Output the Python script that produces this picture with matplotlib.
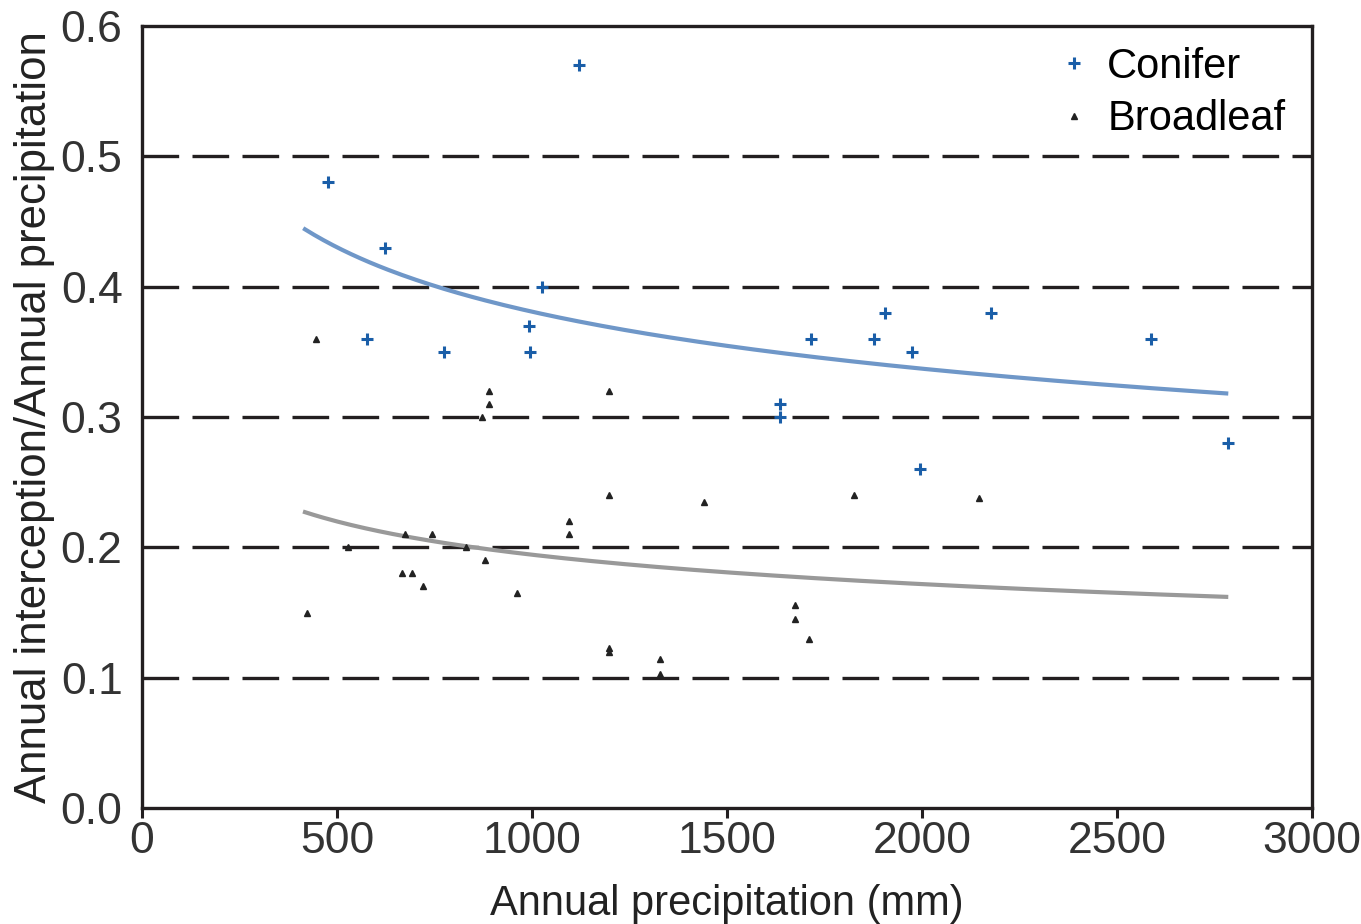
import matplotlib
matplotlib.use('Agg')
import matplotlib.pyplot as plt
import numpy as np

# conifer: annual precipitation (mm) vs interception ratio
con_x = [477, 623, 577, 774, 992, 995, 1026, 1120, 1636, 1636, 1715, 1877,
         1905, 1974, 1995, 2177, 2587, 2785]
con_y = [0.48, 0.43, 0.36, 0.35, 0.37, 0.35, 0.40, 0.57, 0.31, 0.30, 0.36, 0.36,
         0.38, 0.35, 0.26, 0.38, 0.36, 0.28]

# broadleaf
bro_x = [446, 423, 528, 674, 667, 692, 720, 744, 831, 879, 890, 890, 872, 962,
         1095, 1095, 1197, 1197, 1197, 1197, 1328, 1328, 1441, 1674, 1674, 1710,
         1826, 2146]
bro_y = [0.36, 0.15, 0.20, 0.21, 0.18, 0.18, 0.17, 0.21, 0.20, 0.19, 0.32, 0.31,
         0.30, 0.165, 0.22, 0.21, 0.32, 0.24, 0.123, 0.12, 0.114, 0.103, 0.235,
         0.156, 0.145, 0.13, 0.24, 0.238]

# power-law trend lines y = a * (x/x0)**b
con_fit = (0.444, -0.176)
bro_fit = (0.227, -0.178)
fit_range = (418, 2780)

plt.rcParams['font.family'] = ['Liberation Sans', 'DejaVu Sans']

fig = plt.figure(figsize=(13.61, 9.24), dpi=100)
ax = fig.add_axes([0.1043, 0.1255, 0.8597, 0.8464])

xs = np.linspace(fit_range[0], fit_range[1], 200)
ax.plot(xs, con_fit[0] * (xs / fit_range[0]) ** con_fit[1], color='#6f97c8', lw=3, zorder=2)
ax.plot(xs, bro_fit[0] * (xs / fit_range[0]) ** bro_fit[1], color='#999999', lw=3, zorder=2)

ax.plot(con_x, con_y, '+', color='#1a5ea8', ms=8, mew=2.2, ls='none', label='Conifer', zorder=3)
ax.plot(bro_x, bro_y, '^', color='#222222', ms=4.5, ls='none', label='Broadleaf', zorder=3)

for yv in [0.1, 0.2, 0.3, 0.4, 0.5]:
    ax.axhline(yv, color='#231f20', lw=2.4, ls=(0, (11, 4)), zorder=1)

ax.set_xlim(0, 3000)
ax.set_ylim(0, 0.6)
ax.set_xticks([0, 500, 1000, 1500, 2000, 2500, 3000])
ax.set_yticks([0.0, 0.1, 0.2, 0.3, 0.4, 0.5, 0.6])
ax.set_yticklabels(['0.0', '0.1', '0.2', '0.3', '0.4', '0.5', '0.6'])
ax.tick_params(axis='x', length=7, width=2.2, labelsize=32, pad=2,
               color='#231f20', labelcolor='#333333')
ax.tick_params(axis='y', length=0, labelsize=32, pad=14, labelcolor='#333333')
for s in ax.spines.values():
    s.set_linewidth(2.4)
    s.set_color('#231f20')

ax.set_xlabel('Annual precipitation (mm)', fontsize=30, labelpad=16, color='#222222')
ax.set_ylabel('Annual interception/Annual precipitation', fontsize=31.5, labelpad=4,
              color='#222222')

leg = ax.legend(loc='upper right', fontsize=30, frameon=False, handlelength=0.6,
                handletextpad=0.5, borderaxespad=0.1, labelspacing=0.3,
                bbox_to_anchor=(0.995, 1.0))

fig.savefig('out.png', dpi=100)
